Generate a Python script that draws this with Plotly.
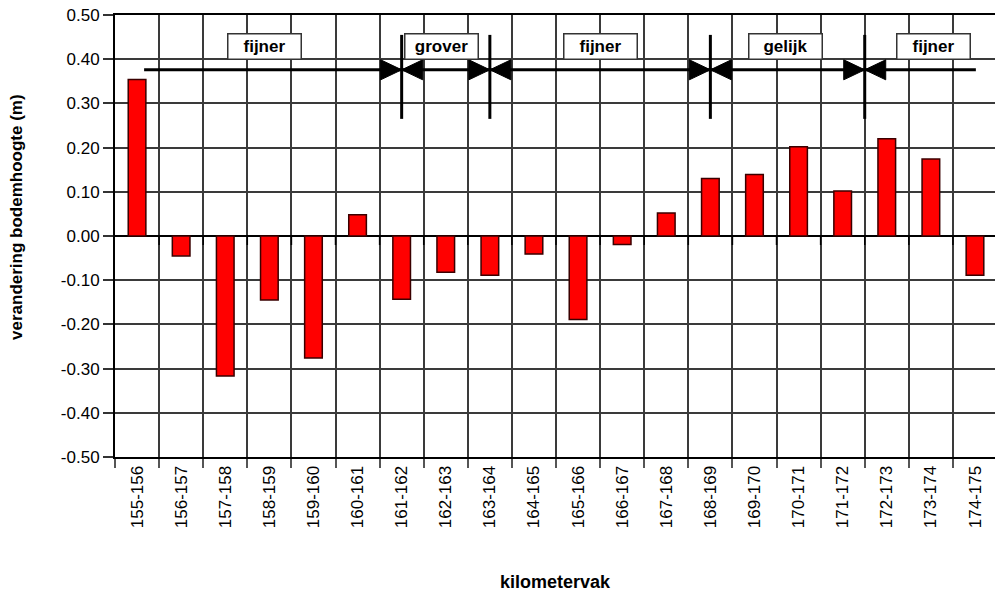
import plotly.graph_objects as go

# Kilometre sections along the river and the change in bed level per section (m)
sections = ["155-156", "156-157", "157-158", "158-159", "159-160", "160-161",
            "161-162", "162-163", "163-164", "164-165", "165-166", "166-167",
            "167-168", "168-169", "169-170", "170-171", "171-172", "172-173",
            "173-174", "174-175"]
bed_change = [0.354, -0.045, -0.317, -0.145, -0.276, 0.048,
              -0.143, -0.082, -0.089, -0.041, -0.189, -0.019,
              0.052, 0.130, 0.139, 0.202, 0.102, 0.220,
              0.174, -0.089]

y_ticks = [0.5, 0.4, 0.3, 0.2, 0.1, 0.0, -0.1, -0.2, -0.3, -0.4, -0.5]
y_ticktext = ["0.50", "0.40", "0.30", "0.20", "0.10", "0.00",
              "-0.10", "-0.20", "-0.30", "-0.40", "-0.50"]

# Sediment trend zones: labels (at km position) and the borders between them
zone_labels = ["fijner", "grover", "fijner", "gelijk", "fijner"]
zone_label_km = [158.4, 162.4, 166.0, 170.2, 173.55]
zone_border_km = [161.5, 163.5, 168.5, 172.0]
trend_line_km = [155.66, 174.52]
trend_line_level = 0.376
border_span = [0.265, 0.455]
label_level = 0.428

FIRST_KM = 155.0


def km_to_x(km):
    # category index i covers km FIRST_KM + i .. FIRST_KM + i + 1
    return km - FIRST_KM - 0.5


FONT = "Liberation Sans, Arial, sans-serif"
GRID = "#3a3a3a"

fig = go.Figure()
fig.add_trace(go.Bar(
    x=sections, y=bed_change, width=0.4,
    marker=dict(color="#ff0000", line=dict(color="#3a0000", width=1.5)),
    showlegend=False,
))

shapes = []
# small ticks along the zero line at the section boundaries
for i in range(1, len(sections)):
    shapes.append(dict(type="line", xref="x", yref="y", ysizemode="pixel",
                       yanchor=0, x0=i - 0.5, x1=i - 0.5, y0=0, y1=-9,
                       line=dict(color="black", width=1.5)))

# horizontal trend line
shapes.append(dict(type="line", xref="x", yref="y",
                   x0=km_to_x(trend_line_km[0]), x1=km_to_x(trend_line_km[1]),
                   y0=trend_line_level, y1=trend_line_level,
                   line=dict(color="black", width=3)))

# zone borders: vertical bar with two opposing arrowheads
for km in zone_border_km:
    xb = km_to_x(km)
    shapes.append(dict(type="line", xref="x", yref="y",
                       x0=xb, x1=xb, y0=border_span[0], y1=border_span[1],
                       line=dict(color="black", width=3)))
    shapes.append(dict(type="path", xref="x", yref="y",
                       xsizemode="pixel", ysizemode="pixel",
                       xanchor=xb, yanchor=trend_line_level,
                       path="M-21,-10 L-21,10 L0,0 Z M21,-10 L21,10 L0,0 Z",
                       fillcolor="black", line=dict(color="black", width=1)))

annotations = []
for txt, km in zip(zone_labels, zone_label_km):
    annotations.append(dict(
        x=km_to_x(km), y=label_level, xref="x", yref="y",
        text="<b>" + txt + "</b>", showarrow=False,
        font=dict(family=FONT, size=17, color="black"),
        bgcolor="white", bordercolor="#333333", borderwidth=1.5,
        borderpad=1, width=70, height=22,
    ))

# axis titles
annotations.append(dict(
    x=0.5, y=-0.2817, xref="paper", yref="paper", yanchor="middle",
    text="<b>kilometervak</b>", showarrow=False,
    font=dict(family=FONT, size=18, color="black"),
))
annotations.append(dict(
    x=-0.1114, y=0.543, xref="paper", yref="paper",
    xanchor="center", yanchor="middle", textangle=-90,
    text="<b>verandering bodemhoogte (m)</b>", showarrow=False,
    font=dict(family=FONT, size=17, color="black"),
))

fig.update_layout(
    width=995, height=591,
    margin=dict(l=115, r=0, t=15, b=134),
    paper_bgcolor="white", plot_bgcolor="white",
    font=dict(family=FONT, size=17, color="black"),
    bargap=0.6,
    shapes=shapes, annotations=annotations,
    xaxis=dict(
        type="category", categoryorder="array", categoryarray=sections,
        range=[-0.5, 19.454], tickson="boundaries",
        ticks="outside", ticklen=9, tickwidth=1.5, tickcolor="#555555",
        tickangle=-90, tickfont=dict(family=FONT, size=17, color="black"),
        showgrid=True, gridcolor=GRID, gridwidth=1.7,
        showline=True, linecolor="black", linewidth=2, mirror=True,
    ),
    yaxis=dict(
        range=[-0.5, 0.5], tickmode="array",
        tickvals=y_ticks, ticktext=y_ticktext,
        ticks="outside", ticklen=10, tickwidth=1.5, tickcolor="#333333",
        tickfont=dict(family=FONT, size=17, color="black"),
        showgrid=True, gridcolor=GRID, gridwidth=1.7,
        zeroline=True, zerolinecolor="black", zerolinewidth=2,
        showline=True, linecolor="black", linewidth=2,
    ),
)

fig.write_html("out.html")
